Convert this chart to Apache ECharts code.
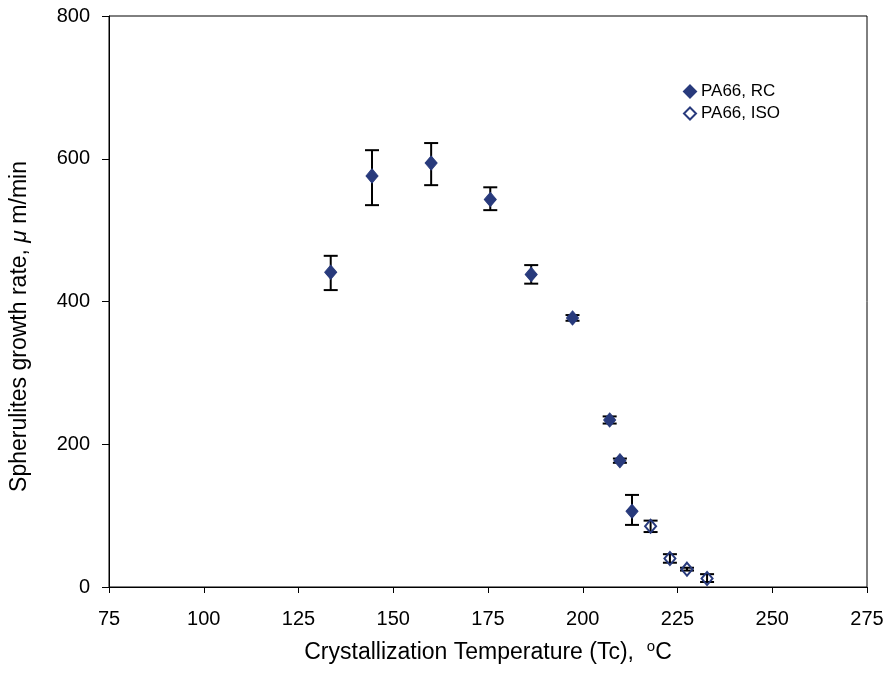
<!DOCTYPE html>
<html>
<head>
<meta charset="utf-8">
<script src="https://cdn.jsdelivr.net/npm/echarts@6/dist/echarts.min.js"></script>
<style>html,body{margin:0;padding:0;background:#fff;}#c{width:888px;height:678px;}</style>
</head>
<body>
<div id="c"></div>
<script>
var rcT = [133.5, 144.4, 160.0, 175.6, 186.4, 197.3, 207.1, 209.8, 213.0];
var rcY = [441, 576, 594, 543, 438, 377, 234, 177, 106];
var rcLow = [416, 535, 563, 528, 425, 373, 229, 174, 87];
var rcHigh = [464, 612, 622, 560, 451, 381, 239, 180, 129];

var isoT = [217.9, 223.0, 227.5, 232.8];
var isoY = [85, 40, 25, 12];
var isoLow = [77, 34, 23, 7];
var isoHigh = [93, 46, 27, 18];

var FONT = 'Liberation Sans, Arial, sans-serif';
var NAVY = '#283A7C';

function pairs(a, b) { return a.map(function (v, i) { return [v, b[i]]; }); }
function errs(t, lo, hi) { return t.map(function (v, i) { return [v, lo[i], hi[i]]; }); }

function renderErr(params, api) {
  var x = api.value(0), lo = api.value(1), hi = api.value(2);
  var pLo = api.coord([x, lo]), pHi = api.coord([x, hi]);
  var w = 7;
  var st = { stroke: '#000', lineWidth: 2 };
  return {
    type: 'group',
    children: [
      { type: 'line', shape: { x1: pLo[0], y1: pLo[1], x2: pHi[0], y2: pHi[1] }, style: st },
      { type: 'line', shape: { x1: pLo[0] - w, y1: pLo[1], x2: pLo[0] + w, y2: pLo[1] }, style: st },
      { type: 'line', shape: { x1: pHi[0] - w, y1: pHi[1], x2: pHi[0] + w, y2: pHi[1] }, style: st }
    ]
  };
}

var chart = echarts.init(document.getElementById('c'), null, { renderer: 'canvas' });
chart.setOption({
  animation: false,
  backgroundColor: '#fff',
  textStyle: { fontFamily: FONT, color: '#000' },
  grid: { left: 109, right: 21, top: 16, bottom: 91, containLabel: false, outerBoundsMode: 'none', show: true, borderColor: '#000', borderWidth: 1, backgroundColor: 'transparent' },
  legend: {
    orient: 'vertical', left: 678, top: 78, itemGap: 5, itemWidth: 12, itemHeight: 12,
    textStyle: { fontFamily: FONT, fontSize: 17, color: '#000' },
    data: ['PA66, RC', 'PA66, ISO']
  },
  xAxis: {
    type: 'value', min: 75, max: 275, interval: 25,
    splitLine: { show: false },
    axisLine: { lineStyle: { color: '#000', width: 1 } },
    axisTick: { inside: false, length: 6, lineStyle: { color: '#000' } },
    axisLabel: { fontSize: 20, color: '#000', margin: 22, fontFamily: FONT },
    name: 'Crystallization Temperature (Tc),  {sup|o}C',
    nameLocation: 'middle', nameGap: 52,
    nameTextStyle: { fontSize: 23, color: '#000', fontFamily: FONT, rich: { sup: { fontSize: 15, padding: [0, 0, 12, 0], fontFamily: FONT, color: '#000' } } }
  },
  yAxis: {
    type: 'value', min: 0, max: 800, interval: 200,
    splitLine: { show: false },
    axisLine: { lineStyle: { color: '#000', width: 1 } },
    axisTick: { inside: false, length: 7, lineStyle: { color: '#000' } },
    axisLabel: { fontSize: 20, color: '#000', margin: 19, fontFamily: FONT },
    name: 'Spherulites growth rate, {i|μ} m/min',
    nameLocation: 'middle', nameGap: 78,
    nameTextStyle: { fontSize: 23, color: '#000', fontFamily: FONT, padding: [0, 50, 0, 0], rich: { i: { fontSize: 23, fontStyle: 'italic', fontFamily: FONT, color: '#000' } } }
  },
  series: [
    { type: 'custom', name: 'errRC', renderItem: renderErr, data: errs(rcT, rcLow, rcHigh), z: 1, silent: true },
    { type: 'custom', name: 'errISO', renderItem: renderErr, data: errs(isoT, isoLow, isoHigh), z: 1, silent: true },
    {
      type: 'scatter', name: 'PA66, RC', symbol: 'diamond', symbolSize: [12, 14], z: 3,
      itemStyle: { color: NAVY, borderColor: NAVY, borderWidth: 1, opacity: 1 },
      data: pairs(rcT, rcY)
    },
    {
      type: 'scatter', name: 'PA66, ISO', symbol: 'diamond', symbolSize: [11, 13], z: 3,
      itemStyle: { color: 'rgba(255,255,255,0)', borderColor: NAVY, borderWidth: 2, opacity: 1 },
      data: pairs(isoT, isoY)
    }
  ]
});
</script>
</body>
</html>
